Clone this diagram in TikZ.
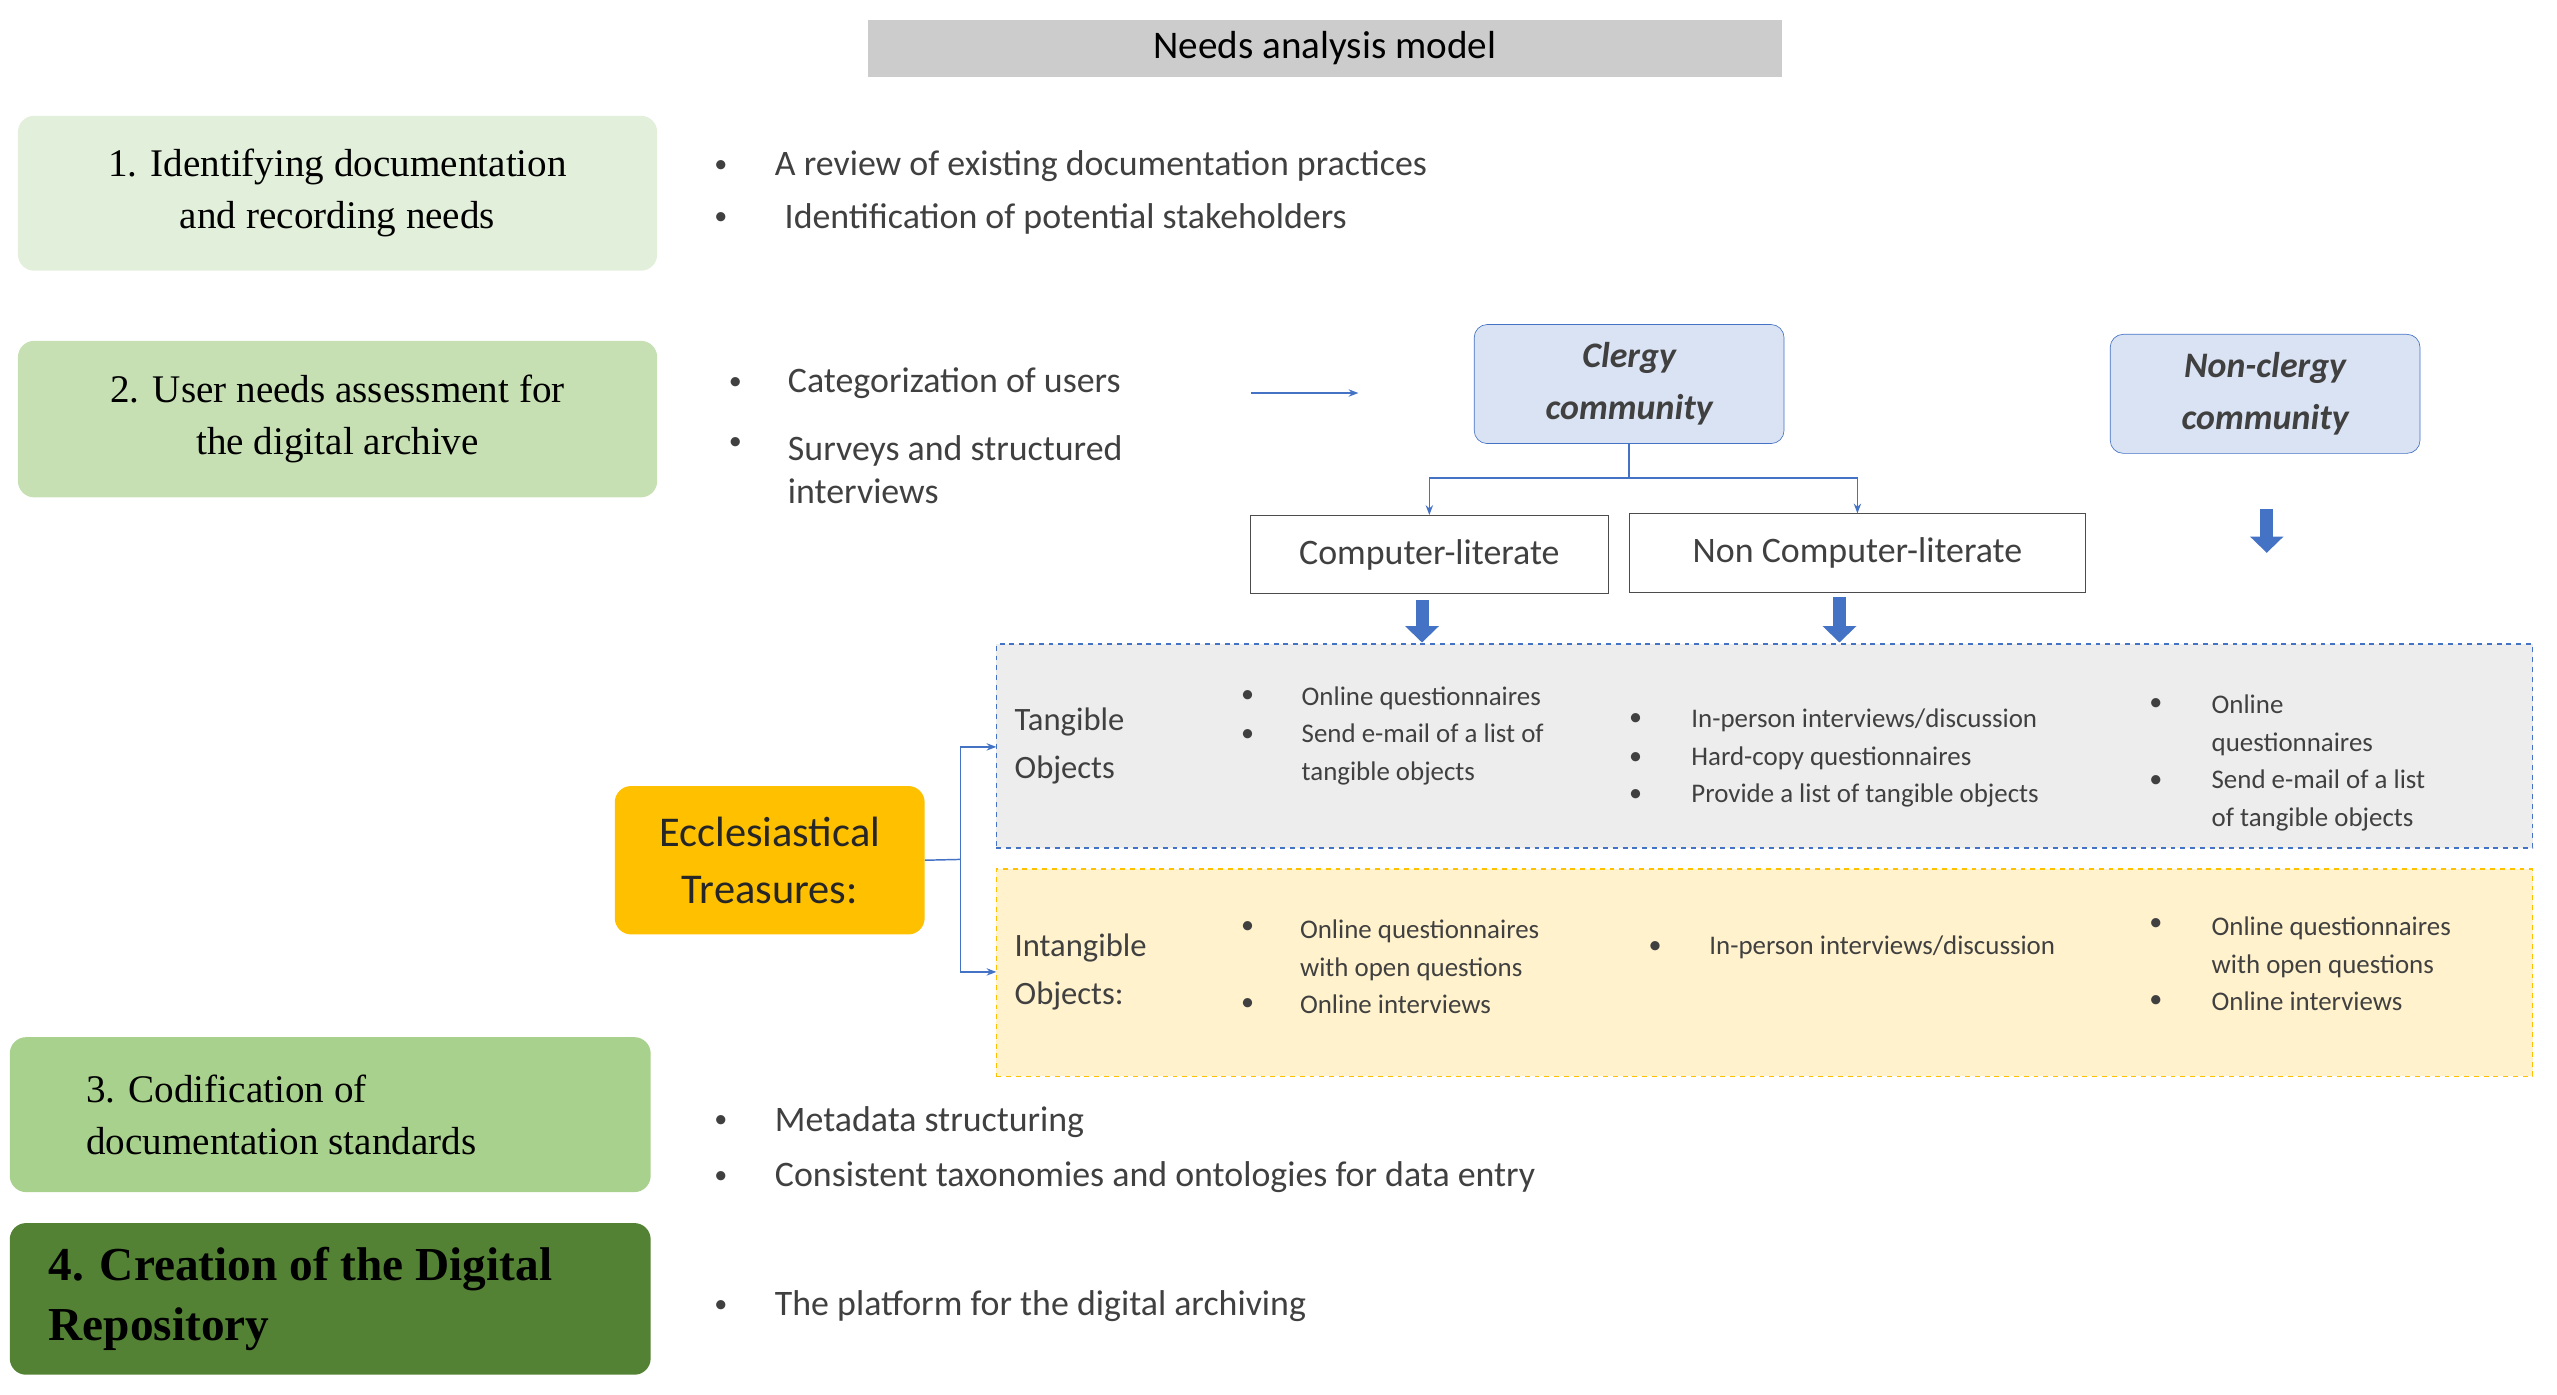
\documentclass[tikz,border=0pt]{standalone}
\usepackage{fontspec}
\setmainfont{Liberation Serif}
\newfontfamily\calf{Carlito}
\usetikzlibrary{arrows.meta}
\definecolor{bblue}{HTML}{4472C4}
\definecolor{g1}{HTML}{E2EFDA}
\definecolor{g2}{HTML}{C6E0B4}
\definecolor{g3}{HTML}{A9D18E}
\definecolor{g4}{HTML}{548235}
\definecolor{lb}{HTML}{DAE3F3}
\definecolor{gold}{HTML}{FFC000}
\definecolor{tx}{HTML}{404040}
\begin{document}
\begin{tikzpicture}[x=1pt,y=-1pt,
 stepbox/.style={rounded corners=10pt,draw=none,align=center,font=\fontsize{24}{32}\selectfont},
 bl/.style={anchor=west,font=\calf\fontsize{22}{26}\selectfont,text=tx,inner sep=0},
 sm/.style={anchor=west,font=\calf\fontsize{16.5}{23}\selectfont,text=tx,inner sep=0,align=left},
 dot/.style={anchor=center,font=\calf\fontsize{16}{16}\selectfont,text=tx,inner sep=0},
 comm/.style={draw=bblue,fill=lb,rounded corners=8pt,align=center,font=\calf\bfseries\itshape\fontsize{22}{32}\selectfont,text=tx},
 lit/.style={draw=black!70,fill=white,font=\calf\fontsize{22}{26}\selectfont,text=tx},
 fat/.style={-{Triangle[width=20pt,length=10pt]},line width=8pt,draw=bblue},
 thin/.style={-{Stealth[length=6pt]},draw=bblue,line width=0.9pt}]
\useasboundingbox (0,0) rectangle (1568,855);
% title
\node[fill=black!20,minimum width=561pt,minimum height=35pt,inner sep=0,font=\calf\fontsize{24}{28}\selectfont] (title) at (812.5,29.5) {Needs analysis model};
% steps
\node[stepbox,fill=g1,minimum width=392pt,minimum height=95pt] (s1) at (207,118.5) {1. Identifying documentation\\and recording needs};
\node[stepbox,fill=g2,minimum width=392pt,minimum height=96pt] (s2) at (207,257) {2. User needs assessment for\\the digital archive};
\node[stepbox,fill=g3,minimum width=393pt,minimum height=95pt,align=left] (s3) at (202.5,683.5) {3. Codification of\\documentation standards\hspace*{60pt}};
\node[stepbox,fill=g4,minimum width=393pt,minimum height=93pt,align=left,font=\bfseries\fontsize{29}{37}\selectfont] (s4) at (202.5,796.5) {4. Creation of the Digital\\Repository\hspace*{210pt}};
% bullets step 1
\node[dot] (d1a) at (442,102) {•}; \node[bl] (b1a) at (475,102) {A review of existing documentation practices};
\node[dot] (d1b) at (442,134) {•}; \node[bl] (b1b) at (481,134) {Identification of potential stakeholders};
% bullets step 2
\node[dot] (d2a) at (451,235) {•}; \node[bl] (b2a) at (483,235) {Categorization of users};
\node[dot] (d2b) at (451,272) {•}; \node[bl,align=left] (b2b) at (483,288) {Surveys and structured\\interviews};
\coordinate (ar1) at (767,241); \coordinate (ar2) at (833,241);
\draw[thin] (ar1) -- (ar2);
% communities
\node[comm,minimum width=190pt,minimum height=73pt] (cl) at (999,235.5) {Clergy\\community};
\node[comm,minimum width=190pt,minimum height=73pt] (ncl) at (1389,241.5) {Non-clergy\\community};
\node[lit,minimum width=219pt,minimum height=48pt] (cli) at (876.5,340) {Computer-literate};
\node[lit,minimum width=280pt,minimum height=48pt] (ncli) at (1139,339) {Non Computer-literate};
\coordinate (j) at (999,293);
\draw[bblue,line width=0.9pt] (cl.south) -- (j);
\draw[thin] (j) -| (cli.north);
\draw[thin] (j) -| (ncli.north);
\coordinate (f1a) at (872,368); \coordinate (f1b) at (872,394);
\coordinate (f2a) at (1128,366); \coordinate (f2b) at (1128,394);
\coordinate (f3a) at (1390,312); \coordinate (f3b) at (1390,339);
\draw[fat] (f1a) -- (f1b); \draw[fat] (f2a) -- (f2b); \draw[fat] (f3a) -- (f3b);
% dashed boxes
\node[draw=bblue,dashed,fill=black!7,minimum width=942pt,minimum height=125pt,inner sep=0,line width=0.9pt] (tan) at (1082,457.5) {};
\node[draw=gold,dashed,fill=gold!20,minimum width=942pt,minimum height=127pt,inner sep=0,line width=0.9pt] (int) at (1082,596.5) {};
\node[sm,font=\calf\fontsize{20}{29}\selectfont] (tl) at (622,457.5) {Tangible\\Objects};
\node[sm,font=\calf\fontsize{20}{29}\selectfont] (il) at (622,596) {Intangible\\Objects:};
% tangible columns
\node[dot] at (765,427) {•}; \node[dot] at (765,451) {•};
\node[sm] (t1) at (798,451) {Online questionnaires\\Send e-mail of a list of\\tangible objects};
\node[dot] at (1003,441) {•}; \node[dot] at (1003,465) {•}; \node[dot] at (1003,488) {•};
\node[sm] (t2) at (1037,465) {In-person interviews/discussion\\Hard-copy questionnaires\\Provide a list of tangible objects};
\node[dot] at (1322,432) {•}; \node[dot] at (1322,479) {•};
\node[sm] (t3) at (1356,468) {Online\\questionnaires\\Send e-mail of a list\\of tangible objects};
% intangible columns
\node[dot] at (765,569) {•}; \node[dot] at (765,616) {•};
\node[sm] (i1) at (797,593) {Online questionnaires\\with open questions\\Online interviews};
\node[dot] at (1015,581) {•}; \node[sm] (i2) at (1048,581) {In-person interviews/discussion};
\node[dot] at (1322,567) {•}; \node[dot] at (1322,614) {•};
\node[sm] (i3) at (1356,591) {Online questionnaires\\with open questions\\Online interviews};
% ecclesiastical
\node[fill=gold,rounded corners=10pt,minimum width=190pt,minimum height=91pt,align=center,font=\calf\fontsize{26}{35}\selectfont,text=black!85] (ec) at (472,527.5) {Ecclesiastical\\Treasures:};
\coordinate (br) at (589,527);
\coordinate (bt) at (611,458); \coordinate (bb) at (611,596);
\draw[bblue,line width=0.9pt] (ec.east) -- (br);
\draw[thin] (br) |- (bt);
\draw[thin] (br) |- (bb);
% bottom bullets
\node[dot] at (442,688) {•}; \node[bl] (b3a) at (475,688) {Metadata structuring};
\node[dot] at (442,722) {•}; \node[bl] (b3b) at (475,722) {Consistent taxonomies and ontologies for data entry};
\node[dot] at (442,801) {•}; \node[bl] (b4a) at (475,801) {The platform for the digital archiving};
\end{tikzpicture}
\end{document}
